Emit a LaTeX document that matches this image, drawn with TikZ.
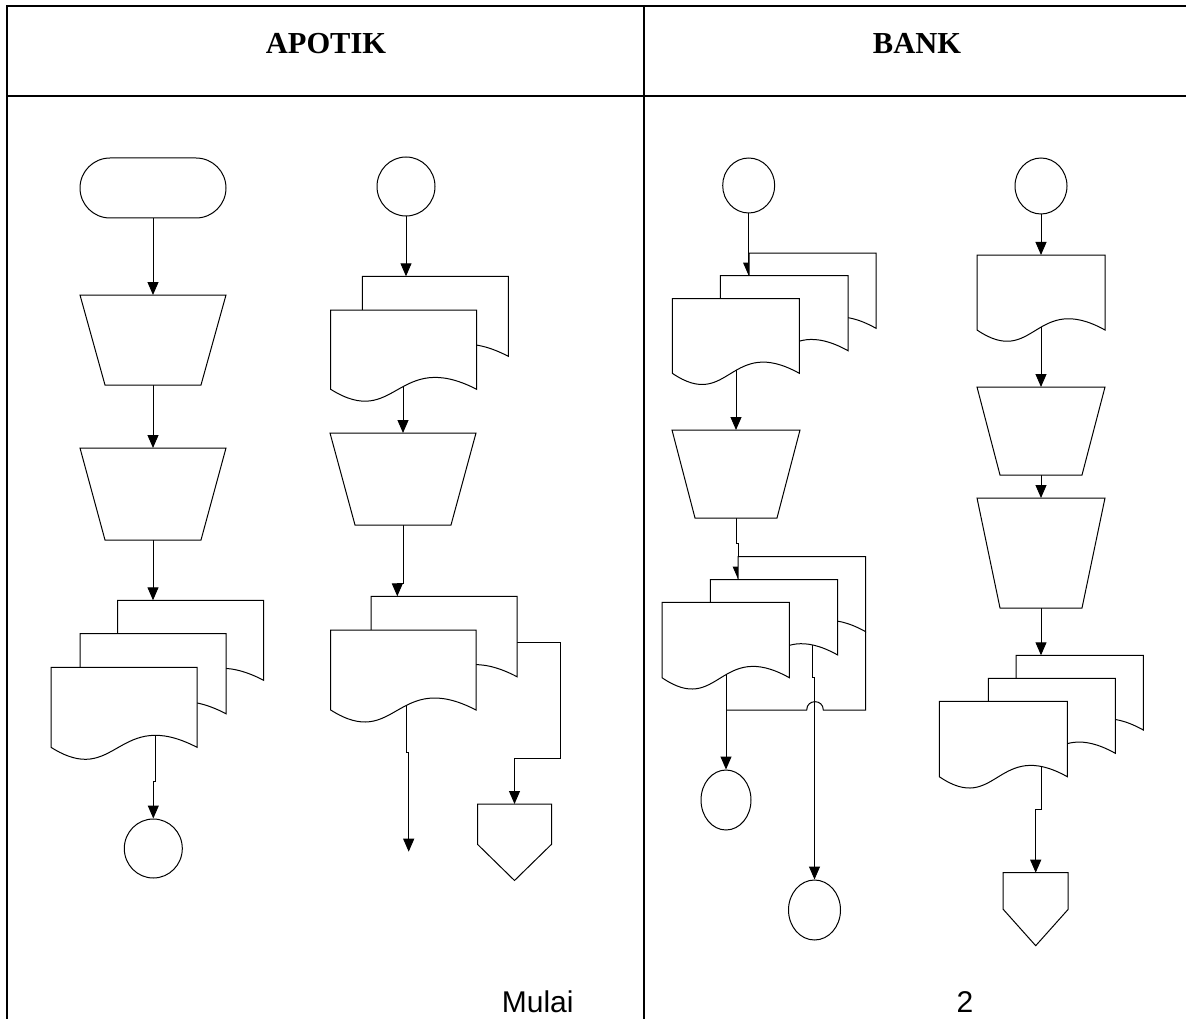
\documentclass[tikz,border=0pt]{standalone}
\usepackage{fontspec}
\setmainfont{Liberation Serif}
\newfontfamily\arialfont{Liberation Sans}
\usetikzlibrary{arrows.meta,calc,shapes.geometric}
\pgfdeclarelayer{paper}
\pgfdeclarelayer{background}
\pgfsetlayers{paper,background,main}

% document symbol: top-left x, top-left y, width, side height
\newcommand{\docshape}[4]{%
  \pgfmathsetmacro\docR{#1+#3}%
  \pgfmathsetmacro\docB{#2+#4}%
  \pgfmathsetmacro\docC{#1+0.45*#3}%
  \pgfmathsetmacro\docU{#2+0.48*#4}%
  \pgfmathsetmacro\docD{#2+1.52*#4}%
  \draw[shapeline] (#1,#2) -- (\docR,#2) -- (\docR,\docB)
    .. controls (\docC,\docU) and (\docC,\docD) .. (#1,\docB) -- cycle;}

% manual operation: name, centre x, top, bottom, half top width, half bottom width
\newcommand{\manop}[6]{%
  \pgfmathsetmacro\mopA{#2-#5}\pgfmathsetmacro\mopB{#2+#5}%
  \pgfmathsetmacro\mopC{#2+#6}\pgfmathsetmacro\mopD{#2-#6}%
  \draw[shapeline] (\mopA,#3) -- (\mopB,#3) -- (\mopC,#4) -- (\mopD,#4) -- cycle;
  \coordinate (#1-t) at (#2,#3);
  \coordinate (#1-b) at (#2,#4);}

% off-page connector: name, centre x, top, half width, side bottom, tip
\newcommand{\offpage}[6]{%
  \pgfmathsetmacro\opA{#2-#4}\pgfmathsetmacro\opB{#2+#4}%
  \draw[shapeline] (\opA,#3) -- (\opB,#3) -- (\opB,#5) -- (#2,#6) -- (\opA,#5) -- cycle;
  \coordinate (#1) at (#2,#3);}

\tikzset{
  shapeline/.style={draw=black, line width=1pt, fill=white, line join=miter},
  conn/.style={draw=black, line width=1pt, -{Triangle[width=11pt,length=13pt]}},
  plainconn/.style={draw=black, line width=1pt},
  connector/.style={ellipse, draw=black, line width=1pt, fill=white, inner sep=0pt},
  terminal/.style={rectangle, rounded corners=30pt, draw=black, line width=1pt,
    fill=white, minimum width=146pt, minimum height=60pt, inner sep=0pt},
  tableline/.style={draw=black, line width=2pt},
  lanehead/.style={font=\bfseries\fontsize{30.5}{36}\selectfont, anchor=base, inner sep=0pt},
  pagelabel/.style={font=\arialfont\fontsize{30}{36}\selectfont, inner sep=0pt}
}

\begin{document}
\begin{tikzpicture}[x=1pt,y=-1pt]
\useasboundingbox (0,0) rectangle (1186,1019);
\begin{pgfonlayer}{paper}
  \fill[white] (0,0) rectangle (1186,1019);
\end{pgfonlayer}

% ---------- swimlane table ----------
\draw[tableline] (6.5,1025) -- (6.5,6.5) -- (1192,6.5);
\draw[tableline] (6.5,96) -- (1192,96);
\draw[tableline] (644,6.5) -- (644,1025);
\node[lanehead] (hApotik) at (326,53.3) {APOTIK};
\node[lanehead] (hBank) at (917,53.3) {BANK};

% ---------- APOTIK, first column ----------
\node[terminal] (t1) at (153,188) {};
\manop{m1}{153}{295}{385}{73}{48}
\manop{m2}{153}{448}{540}{73}{48}
\docshape{117.7}{600.3}{146}{80}
\docshape{80}{633.7}{146}{80}
\docshape{51}{667.3}{146}{80}
\coordinate (a1top) at (153,600.3);
\coordinate (a1s) at (155.7,725);
\node[connector, minimum width=58pt, minimum height=59pt] (c1) at (153.3,848.5) {};

% ---------- APOTIK, second column ----------
\node[connector, minimum width=58pt, minimum height=59pt] (c2) at (406,186.5) {};
\docshape{362.3}{276.3}{146}{80}
\docshape{330.7}{310}{146}{79.3}
\coordinate (a2top) at (406,276.3);
\coordinate (a2s) at (403,370);
\manop{m3}{403}{433}{525}{73}{48}
\docshape{371}{596.3}{146}{80.4}
\docshape{330.7}{630}{145.3}{80}
\coordinate (a3top) at (397.3,596.3);
\coordinate (a3r) at (516.7,642);
\coordinate (a3s) at (406,690);
\coordinate (a3end) at (408.7,851.7);
\offpage{p1}{514.5}{804}{37}{844.3}{880.5}

% ---------- BANK, first column ----------
\node[connector, minimum width=52pt, minimum height=55pt] (c3) at (748.7,185.5) {};
\docshape{749}{253}{127}{75.3}
\docshape{720.3}{275.7}{127.7}{75}
\docshape{672.3}{298.7}{127}{74.6}
\coordinate (b1top) at (748.7,275.7);
\coordinate (b1s) at (736,355);
\manop{m4}{736}{430}{518}{64}{41}
\docshape{738}{556.7}{127.7}{75}
\docshape{710.3}{579.7}{127.4}{75.3}
\docshape{662}{602.3}{127.3}{75.4}
\coordinate (b2top) at (738.3,579.7);
\coordinate (b2s) at (726,660);
\coordinate (b2c) at (865.7,631.7);
\coordinate (hopR) at (823.3,710);
\coordinate (hopL) at (806.7,710);
\coordinate (b2j) at (726,710);
\coordinate (b3s) at (812.7,640);
\node[connector, minimum width=50pt, minimum height=60pt] (c5) at (726,800) {};
\node[connector, minimum width=52pt, minimum height=60pt] (c6) at (814.5,910) {};

% ---------- BANK, second column ----------
\node[connector, minimum width=52pt, minimum height=56pt] (c4) at (1041,186) {};
\docshape{977}{255}{128}{75}
\coordinate (b4top) at (1041,255);
\coordinate (b4s) at (1041,310);
\manop{m5}{1041}{387}{475}{64}{41}
\manop{m6}{1041}{498}{608}{64}{41}
\docshape{1016}{655.3}{127.3}{74.7}
\docshape{988.3}{678.3}{127}{75}
\docshape{939.3}{701.3}{128}{75.4}
\coordinate (b5top) at (1041,655.3);
\coordinate (b5s) at (1041,750);
\offpage{p2}{1035.7}{872.7}{32.5}{909.3}{945.7}

% ---------- page labels ----------
\node[pagelabel, anchor=base west] (lMulai) at (501.7,1012.7) {Mulai};
\node[pagelabel, anchor=base] (lTwo) at (965,1012.7) {2};

% ---------- flow lines ----------
\begin{pgfonlayer}{background}
  % APOTIK first column
  \draw[conn] (t1.south) -- (m1-t);
  \draw[conn] (m1-b) -- (m2-t);
  \draw[conn] (m2-b) -- (a1top);
  \draw[conn] (a1s) |- ($(c1.north)+(0,-37)$) -- (c1.north);
  % APOTIK second column
  \draw[conn] (c2.south) -- (a2top);
  \draw[conn] (a2s) -- (m3-t);
  \draw[conn] (m3-b) |- ($(a3top)+(0,-13)$) -- (a3top);
  \draw[conn] (a3r) -| ($(p1)+(46,-45.3)$) -- ($(p1)+(0,-45.3)$) -- (p1);
  \draw[conn] (a3s) |- ($(a3end)+(0,-99)$) -- (a3end);
  % BANK first column
  \draw[conn] (c3.south) -- (b1top);
  \draw[conn] (b1s) -- (m4-t);
  \draw[conn] (m4-b) |- ($(b2top)+(0,-36.7)$) -- (b2top);
  \draw[conn] (b2s) -- (c5.north);
  \draw[conn] (b3s) |- ($(c6.north)+(0,-201.7)$) -- (c6.north);
  \draw[plainconn] (b2c) |- (hopR) .. controls +(0,-11.1) and +(0,-11.1) .. (hopL) -- (b2j);
  % BANK second column
  \draw[conn] (c4.south) -- (b4top);
  \draw[conn] (b4s) -- (m5-t);
  \draw[conn] (m5-b) -- (m6-t);
  \draw[conn] (m6-b) -- (b5top);
  \draw[conn] (b5s) |- ($(p2)+(0,-63.4)$) -- (p2);
\end{pgfonlayer}
\end{tikzpicture}
\end{document}
